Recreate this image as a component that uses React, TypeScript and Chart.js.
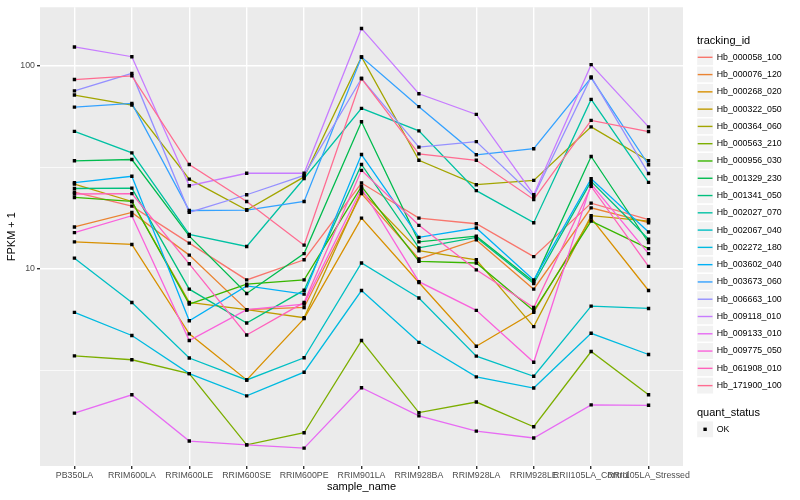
import React, { useEffect, useRef } from "react";
import { Chart, registerables } from "chart.js";

Chart.register(...registerables);

const FONT = "'Liberation Sans', Arial, Helvetica, sans-serif";

const sampleNames = [
  "PB350LA", "RRIM600LA", "RRIM600LE", "RRIM600SE", "RRIM600PE", "RRIM901LA",
  "RRIM928BA", "RRIM928LA", "RRIM928LE", "RRII105LA_Control", "RRII105LA_Stressed",
];

const trackingIds = [
  "Hb_000058_100", "Hb_000076_120", "Hb_000268_020", "Hb_000322_050", "Hb_000364_060",
  "Hb_000563_210", "Hb_000956_030", "Hb_001329_230", "Hb_001341_050", "Hb_002027_070",
  "Hb_002067_040", "Hb_002272_180", "Hb_003602_040", "Hb_003673_060", "Hb_006663_100",
  "Hb_009118_010", "Hb_009133_010", "Hb_009775_050", "Hb_061908_010", "Hb_171900_100",
];

const hueColors = [
  "#F8766D", "#EA8331", "#D89000", "#C09B00", "#A3A500", "#7CAE00", "#39B600", "#00BB4E",
  "#00BF7D", "#00C1A3", "#00BFC4", "#00BAE0", "#00B0F6", "#35A2FF", "#9590FF", "#C77CFF",
  "#E76BF3", "#FA62DB", "#FF62BC", "#FF6C91",
];

// FPKM + 1 per sample (same order as sampleNames)
const hb000058 = [23.9, 20.4, 13.4, 8.83, 11.1, 26.5, 17.8, 16.7, 11.5, 21.1, 17.5];
const hb000076 = [16.1, 19.0, 11.7, 6.3, 6.46, 23.5, 11.2, 13.9, 7.95, 20.0, 16.9];
const hb000268 = [13.6, 13.2, 4.79, 2.84, 5.69, 17.8, 8.57, 4.16, 6.11, 17.8, 7.83];
const hb000322 = [26.2, 21.5, 6.84, 6.3, 5.75, 24.1, 12.3, 11.1, 5.2, 18.3, 17.2];
const hb000364 = [71.9, 64.2, 27.7, 19.5, 28.4, 110.7, 34.3, 26.0, 27.3, 50.1, 34.1];
const hb000563 = [3.73, 3.57, 3.05, 1.36, 1.56, 4.44, 1.96, 2.21, 1.67, 3.92, 2.4];
const hb000956 = [22.5, 21.5, 6.71, 8.41, 8.83, 25.5, 10.9, 10.7, 6.22, 17.2, 12.6];
const hb001329 = [34.1, 34.6, 14.5, 7.57, 11.9, 53.1, 13.6, 14.5, 8.66, 35.8, 13.5];
const hb001341 = [24.9, 25.0, 7.95, 5.42, 7.86, 32.7, 12.7, 14.3, 8.47, 27.0, 14.0];
const hb002027 = [47.6, 37.3, 14.8, 12.9, 27.9, 61.8, 47.9, 24.3, 16.9, 68.4, 26.7];
const hb002067 = [11.3, 6.84, 3.64, 2.84, 3.65, 10.7, 7.19, 3.72, 2.96, 6.56, 6.39];
const hb002272 = [6.11, 4.7, 3.05, 2.37, 3.1, 7.83, 4.35, 2.94, 2.59, 4.82, 3.79];
const hb003602 = [26.6, 28.6, 5.56, 8.25, 7.52, 36.6, 14.3, 15.9, 8.83, 27.8, 15.2];
const hb003673 = [62.7, 65.4, 19.4, 19.5, 21.5, 110.7, 63.0, 36.5, 39.1, 87.3, 32.6];
const hb006663 = [75.4, 91.9, 19.0, 23.2, 28.9, 86.7, 39.8, 42.4, 22.8, 88.3, 29.5];
const hb009118 = [124, 111, 25.7, 29.6, 29.6, 153, 72.9, 57.7, 23.2, 101.5, 50.1];
const hb009133 = [1.95, 2.4, 1.42, 1.36, 1.31, 2.6, 1.89, 1.59, 1.47, 2.14, 2.13];
const hb009775 = [15.1, 18.3, 4.44, 6.3, 6.71, 24.9, 8.66, 6.25, 3.47, 26.2, 11.9];
const hb061908 = [23.4, 23.5, 10.6, 4.73, 6.84, 30.6, 16.4, 9.9, 6.46, 25.5, 10.3];
const hb171900 = [85.7, 89.3, 32.7, 21.5, 13.1, 86.7, 36.9, 34.3, 22.0, 53.9, 47.5];

const seriesValues = [
  hb000058, hb000076, hb000268, hb000322, hb000364, hb000563, hb000956, hb001329,
  hb001341, hb002027, hb002067, hb002272, hb003602, hb003673, hb006663, hb009118,
  hb009133, hb009775, hb061908, hb171900,
];

const yGridValues = [3.1623, 10, 31.623, 100];
const yLabelledTicks = [10, 100];
const quantStatus = ["OK"];

const panelBackground = {
  id: "panelBackground",
  beforeDraw(chart: any) {
    const { ctx, chartArea } = chart;
    ctx.save();
    ctx.fillStyle = "#EBEBEB";
    ctx.fillRect(chartArea.left, chartArea.top, chartArea.right - chartArea.left, chartArea.bottom - chartArea.top);
    ctx.restore();
  },
};

const ggLegend = {
  id: "ggLegend",
  afterDraw(chart: any) {
    const { ctx } = chart;
    const left = chart.chartArea.right + 14;
    const keySize = 17.28;
    ctx.save();
    ctx.textBaseline = "middle";
    ctx.textAlign = "left";
    ctx.fillStyle = "#000";
    ctx.font = `11px ${FONT}`;
    ctx.fillText("tracking_id", left, 40.7);
    const lines = chart.data.datasets.filter((d: any) => d.showLine !== false);
    lines.forEach((d: any, i: number) => {
      const cy = 57.3 + i * keySize;
      ctx.fillStyle = "#F2F2F2";
      ctx.fillRect(left - 0.5, cy - keySize / 2, keySize, keySize);
      ctx.strokeStyle = "#FFFFFF";
      ctx.lineWidth = 1.4;
      ctx.strokeRect(left - 0.5, cy - keySize / 2, keySize, keySize);
      ctx.strokeStyle = d.borderColor;
      ctx.lineWidth = 1.4;
      ctx.beginPath();
      ctx.moveTo(left + 0.7, cy);
      ctx.lineTo(left + 15.5, cy);
      ctx.stroke();
      ctx.fillStyle = "#000";
      ctx.font = `8.8px ${FONT}`;
      ctx.fillText(d.label, left + 19.7, cy);
    });
    ctx.font = `11px ${FONT}`;
    ctx.fillStyle = "#000";
    ctx.fillText("quant_status", left, 412.7);
    quantStatus.forEach((q, i) => {
      const cy = 429.3 + i * keySize;
      ctx.fillStyle = "#F2F2F2";
      ctx.fillRect(left - 0.5, cy - keySize / 2, keySize, keySize);
      ctx.strokeStyle = "#FFFFFF";
      ctx.lineWidth = 1.4;
      ctx.strokeRect(left - 0.5, cy - keySize / 2, keySize, keySize);
      ctx.fillStyle = "#000";
      ctx.fillRect(left + 8.1 - 1.7, cy - 1.7, 3.4, 3.4);
      ctx.font = `8.8px ${FONT}`;
      ctx.fillText(q, left + 19.7, cy);
    });
    ctx.restore();
  },
};

export default function App() {
  const canvasRef = useRef<HTMLCanvasElement | null>(null);

  useEffect(() => {
    if (!canvasRef.current) return;
    const lineSets = seriesValues.map((vals, i) => ({
      label: trackingIds[i],
      data: vals.map((v, j) => ({ x: j, y: v })),
      borderColor: hueColors[i],
      backgroundColor: hueColors[i],
      borderWidth: 1.3,
      pointRadius: 0,
      tension: 0,
      fill: false,
      order: 100 - i,
    }));
    const pointSet = {
      label: "OK",
      data: seriesValues.flatMap((vals) => vals.map((v, j) => ({ x: j, y: v }))),
      showLine: false,
      pointStyle: "rect",
      pointRadius: 2.4,
      pointBorderWidth: 0,
      borderWidth: 0,
      pointBackgroundColor: "#000000",
      backgroundColor: "#000000",
      borderColor: "#000000",
      order: 0,
    };

    const tickFont = { family: FONT, size: 8.8 };
    const chart = new Chart(canvasRef.current, {
      type: "line",
      data: { datasets: [...lineSets, pointSet] as any },
      plugins: [panelBackground, ggLegend],
      options: {
        animation: false,
        responsive: false,
        events: [],
        layout: { padding: { left: 0, top: 5, right: 117, bottom: 0 } },
        plugins: { legend: { display: false }, tooltip: { enabled: false } },
        scales: {
          x: {
            type: "linear",
            min: -0.6,
            max: 10.6,
            bounds: "data",
            afterBuildTicks: (scale: any) => {
              scale.ticks = sampleNames.map((_, i) => ({ value: i }));
            },
            afterFit: (scale: any) => {
              scale.height = 34;
            },
            ticks: {
              callback: (v: any) => sampleNames[v] ?? "",
              autoSkip: false,
              maxRotation: 0,
              minRotation: 0,
              padding: 1,
              color: "#4D4D4D",
              font: tickFont,
            },
            grid: { color: "#FFFFFF", lineWidth: 1.4, tickColor: "#333333", tickLength: 3 },
            border: { display: false },
            title: {
              display: true,
              text: "sample_name",
              color: "#000000",
              font: { family: FONT, size: 11 },
              padding: { top: 0, bottom: 6.4 },
            },
          },
          y: {
            type: "logarithmic",
            min: 1.07,
            max: 194.5,
            bounds: "data",
            afterBuildTicks: (scale: any) => {
              scale.ticks = yGridValues.map((v) => ({ value: v }));
            },
            afterFit: (scale: any) => {
              scale.width = 40;
            },
            ticks: {
              callback: (v: any) => (yLabelledTicks.includes(v) ? String(v) : ""),
              autoSkip: false,
              padding: 2,
              color: "#4D4D4D",
              font: tickFont,
            },
            grid: {
              color: "#FFFFFF",
              lineWidth: (ctx: any) => (ctx.tick && yLabelledTicks.includes(ctx.tick.value) ? 1.4 : 0.7),
              tickColor: (ctx: any) =>
                ctx.tick && yLabelledTicks.includes(ctx.tick.value) ? "#333333" : "rgba(0,0,0,0)",
              tickLength: 3,
            },
            border: { display: false },
            title: {
              display: true,
              text: "FPKM + 1",
              color: "#000000",
              font: { family: FONT, size: 11 },
              padding: { top: 5.4, bottom: 0 },
            },
          },
        },
      } as any,
    });
    return () => chart.destroy();
  }, []);

  return (
    <div style={{ position: "fixed", left: 0, top: 0, width: 800, height: 500, background: "#FFFFFF" }}>
      <canvas ref={canvasRef} width={800} height={500} style={{ width: 800, height: 500, display: "block" }} />
    </div>
  );
}
